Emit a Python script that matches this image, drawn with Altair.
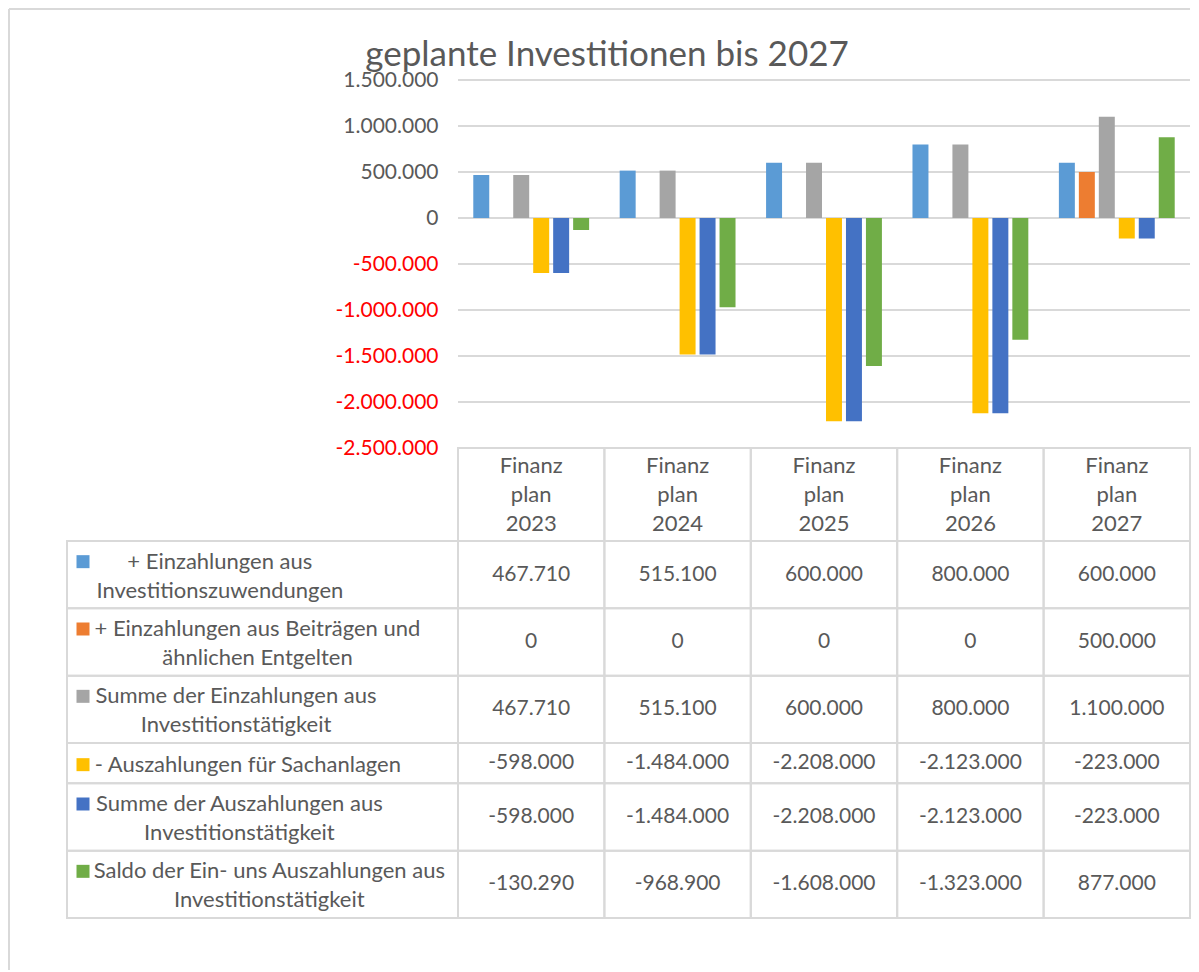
import altair as alt
import pandas as pd

# ---------------- data ----------------
TITLE = "geplante Investitionen bis 2027"
YEARS = ["2023", "2024", "2025", "2026", "2027"]
HEADER_PREFIX = "Finanz\nplan\n"
SERIES = [
    "+ Einzahlungen aus\nInvestitionszuwendungen",
    "+ Einzahlungen aus Beiträgen und\nähnlichen Entgelten",
    "Summe der Einzahlungen aus\nInvestitionstätigkeit",
    "- Auszahlungen für Sachanlagen",
    "Summe der Auszahlungen aus\nInvestitionstätigkeit",
    "Saldo der Ein- uns Auszahlungen aus\nInvestitionstätigkeit",
]
COLORS = ["#5B9BD5", "#ED7D31", "#A5A5A5", "#FFC000", "#4472C4", "#70AD47"]
EINZ_ZUWEND = [467710, 515100, 600000, 800000, 600000]
EINZ_BEITR = [0, 0, 0, 0, 500000]
SUMME_EINZ = [467710, 515100, 600000, 800000, 1100000]
AUSZ_SACH = [-598000, -1484000, -2208000, -2123000, -223000]
SUMME_AUSZ = [-598000, -1484000, -2208000, -2123000, -223000]
SALDO = [-130290, -968900, -1608000, -1323000, 877000]
VALUES = [EINZ_ZUWEND, EINZ_BEITR, SUMME_EINZ, AUSZ_SACH, SUMME_AUSZ, SALDO]
Y_TICKS = [-2500000, -2000000, -1500000, -1000000, -500000, 0, 500000, 1000000, 1500000]

# ---------------- layout / style ----------------
FONT = "Lato"
TXT = "#595959"
GRID = "#D9D9D9"
FS = 22       # label text
FS_NUM = 21   # numbers
LINE_H = 29
PLOT_W, PLOT_H = 1123, 838
LEG_W = 391
COL_W = (PLOT_W - LEG_W) / len(YEARS)
BAR_H = 368
TABLE_H = PLOT_H - BAR_H
HEAD_H = 93

n_lines = [s.count("\n") + 1 for s in SERIES]
b = 27
a = (TABLE_H - HEAD_H - b * sum(n_lines)) / len(SERIES)
row_h = [a + b * n for n in n_lines]
row_top = []
acc = HEAD_H
for h in row_h:
    row_top.append(acc)
    acc += h

# rough Lato advance widths (em) to left-align label blocks like Excel does
CW = {" ": .193, "+": .58, "-": .32, ".": .2,
      "a": .47, "b": .54, "c": .45, "d": .54, "e": .51, "f": .31, "g": .49, "h": .54,
      "i": .23, "j": .23, "k": .49, "l": .23, "m": .81, "n": .54, "o": .54, "p": .54,
      "r": .35, "s": .41, "t": .34, "u": .54, "v": .49, "w": .75, "z": .45, "ä": .47,
      "ü": .54, "A": .67, "B": .63, "E": .55, "I": .26, "S": .51}


def est_w(s):
    return sum(CW.get(c, .5) for c in s) * FS * 1.035


# ---------------- bar part ----------------
bar_rows = []
for si, s in enumerate(SERIES):
    for yi, yv in enumerate(YEARS):
        bar_rows.append({"year": yv, "series": s, "value": VALUES[si][yi]})
bars_df = pd.DataFrame(bar_rows)
grid_df = pd.DataFrame({"value": Y_TICKS})

color_scale = alt.Scale(domain=SERIES, range=COLORS)
yscale = alt.Scale(domain=[Y_TICKS[0], Y_TICKS[-1]], range=[BAR_H, 0], nice=False)
yaxis = alt.Axis(values=Y_TICKS, format=",d", offset=-LEG_W, domain=False, ticks=False,
                 grid=False, labelPadding=20, labelFont=FONT, labelFontSize=FS_NUM,
                 labelOverlap=False, title=None,
                 labelColor=alt.condition("datum.value < 0", alt.value("#FF0000"), alt.value(TXT)))

grid = alt.Chart(grid_df).mark_rule(color=GRID, strokeWidth=2).encode(
    y=alt.Y("value:Q", scale=yscale, axis=yaxis),
    x=alt.value(LEG_W), x2=alt.value(PLOT_W))

bars = alt.Chart(bars_df).mark_bar().encode(
    x=alt.X("year:N", scale=alt.Scale(domain=YEARS, range=[LEG_W, PLOT_W], paddingInner=0, paddingOuter=0),
            axis=None),
    xOffset=alt.XOffset("series:N", scale=alt.Scale(domain=SERIES, paddingInner=0.2, paddingOuter=0.765)),
    y=alt.Y("value:Q", scale=yscale, axis=yaxis),
    color=alt.Color("series:N", scale=color_scale, legend=None),
)
top = alt.layer(grid, bars)

# ---------------- table part ----------------
cells, heads, vals, labs, sqs = [], [], [], [], []
for i, yv in enumerate(YEARS):
    x0 = LEG_W + i * COL_W
    cells.append({"x": x0, "x2": x0 + COL_W, "y": 0, "y2": HEAD_H})
    heads.append({"x": x0 + COL_W / 2, "y": HEAD_H / 2 - LINE_H, "text": HEADER_PREFIX + yv})
for si, s in enumerate(SERIES):
    y0, h = row_top[si], row_h[si]
    yc = y0 + h / 2
    cells.append({"x": 0, "x2": LEG_W, "y": y0, "y2": y0 + h})
    lines = s.split("\n")
    y_first = yc - (len(lines) - 1) * LINE_H / 2 + 1.5
    labs.append({"x": 30 + max(est_w(l) for l in lines) / 2, "y": y_first, "text": s})
    sqs.append({"x": 16, "y": y_first, "series": s})
    for i, yv in enumerate(YEARS):
        x0 = LEG_W + i * COL_W
        cells.append({"x": x0, "x2": x0 + COL_W, "y": y0, "y2": y0 + h})
        vals.append({"x": x0 + COL_W / 2, "y": yc, "value": VALUES[si][i]})

TX = alt.Scale(domain=[0, PLOT_W], range=[0, PLOT_W], nice=False, zero=False)
TY = alt.Scale(domain=[0, TABLE_H], range=[BAR_H, PLOT_H], nice=False, zero=False)
tx = alt.X("x:Q", scale=TX, axis=None)
ty = alt.Y("y:Q", scale=TY, axis=None)

cell_layer = alt.Chart(pd.DataFrame(cells)).mark_rect(fillOpacity=0, stroke=GRID, strokeWidth=2).encode(
    x=tx, x2="x2:Q", y=ty, y2="y2:Q")
text_kw = dict(font=FONT, color=TXT, lineBreak="\n", lineHeight=LINE_H,
               align="center", baseline="middle")
head_layer = alt.Chart(pd.DataFrame(heads)).mark_text(fontSize=FS, **text_kw).encode(
    x=tx, y=ty, text="text:N")
val_layer = alt.Chart(pd.DataFrame(vals)).mark_text(fontSize=FS_NUM, **text_kw).encode(
    x=tx, y=ty, text=alt.Text("value:Q", format=",d"))
lab_layer = alt.Chart(pd.DataFrame(labs)).mark_text(fontSize=FS, **text_kw).encode(
    x=tx, y=ty, text="text:N")
sq_layer = alt.Chart(pd.DataFrame(sqs)).mark_square(size=169, opacity=1).encode(
    x=tx, y=ty, color=alt.Color("series:N", scale=color_scale, legend=None))

one = pd.DataFrame({"k": [0]})
frame_top = alt.Chart(one).mark_rule(color=GRID, strokeWidth=2).encode(
    x=alt.value(-58), x2=alt.value(PLOT_W), y=alt.value(-71))
frame_left = alt.Chart(one).mark_rule(color=GRID, strokeWidth=2).encode(
    x=alt.value(-58), y=alt.value(-71), y2=alt.value(890))
title = alt.Chart(one).mark_text(text=TITLE, font=FONT, fontSize=35, color=TXT,
                                 align="center", baseline="alphabetic").encode(
    x=alt.value(540), y=alt.value(-14))

table = alt.layer(cell_layer, head_layer, val_layer, lab_layer, sq_layer, frame_top, frame_left, title)

chart = alt.layer(top, table).resolve_scale(x="independent", y="independent").properties(
    width=PLOT_W, height=PLOT_H, padding=0,
).configure(
    locale={"number": {"decimal": ",", "thousands": ".", "grouping": [3],
                       "currency": ["", " €"], "minus": "-"}}
).configure_view(strokeWidth=0)

chart.save("out.html", embed_options={"renderer": "svg", "actions": False})
